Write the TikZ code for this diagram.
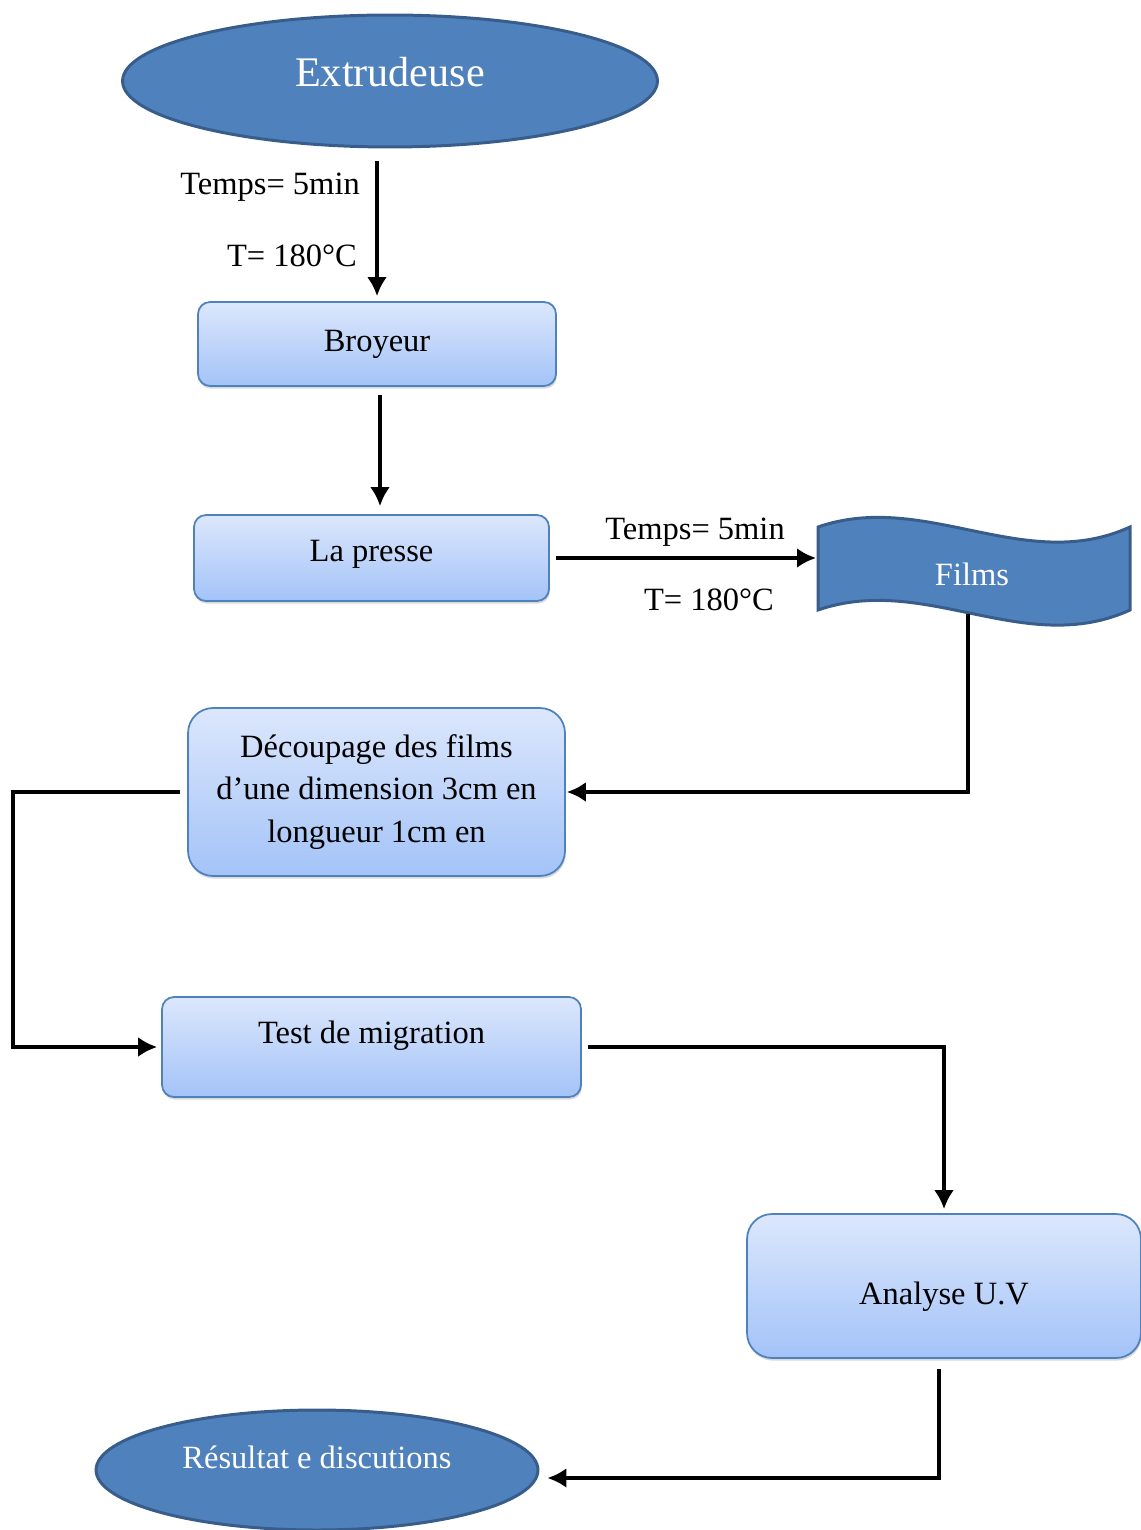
\documentclass[tikz,border=0pt]{standalone}
\usepackage{fontspec}
\setmainfont{Liberation Serif}
\usetikzlibrary{shapes.geometric,shadows,arrows.meta}
\definecolor{accent}{HTML}{4F81BD}
\definecolor{accentdark}{HTML}{385D8A}
\definecolor{boxtop}{HTML}{DCE7FC}
\definecolor{boxbottom}{HTML}{A3C3F8}

\begin{document}
\begin{tikzpicture}[x=0.02cm, y=-0.02cm,
		txt/.style={font=\fontsize{18.5}{24}\selectfont},
		etape/.style={txt, draw=accent, line width=1pt, rounded corners=0.24cm, top color=boxtop, bottom color=boxbottom, drop shadow={shadow xshift=0.5pt, shadow yshift=-1.5pt, opacity=0.3}, align=center},
		terminal/.style={ellipse, draw=accentdark, line width=1.7pt, fill=accent, text=white},
		fleche/.style={line width=2.3pt, -{Latex[length=0.38cm, width=0.4cm]}}]
			\useasboundingbox (0,0) rectangle (1141,1530);
			% shapes
			\node[terminal, minimum width=10.7cm, minimum height=2.64cm, font=\fontsize{24}{29}\selectfont, text height=0.6cm, text depth=0.36cm] (extr) at (390,81) {Extrudeuse};
			\node[etape, minimum width=7.16cm, minimum height=1.68cm] (broy) at (377,344) {Broyeur};
			\node[etape, minimum width=7.1cm, minimum height=1.72cm, text height=0.45cm, text depth=0.3cm] (presse) at (371.5,558) {La presse};
			\draw[accentdark, line width=1.7pt, fill=accent] (818,527) .. controls (925,490) and (1025,575) .. (1130,527) -- (1130,610) .. controls (1025,658) and (925,573) .. (818,610) -- cycle;
			\node[txt, text=white] (films) at (972,574) {Films};
			\coordinate (filmsgauche) at (816,560);
			\coordinate (filmsbas) at (968,614);
			\node[etape, minimum width=7.54cm, minimum height=3.36cm, rounded corners=0.5cm] (decoupe) at (376.5,792) {Découpage des films\\ d’une dimension 3cm en\\ longueur 1cm en};
			\node[etape, minimum width=8.38cm, minimum height=2cm, text height=0.45cm, text depth=0.6cm] (test) at (371.5,1047) {Test de migration};
			\node[etape, minimum width=7.88cm, minimum height=2.88cm, rounded corners=0.5cm, text height=0.85cm, text depth=0.12cm] (analyse) at (944,1286) {Analyse U.V};
			\node[terminal, txt, minimum width=8.84cm, minimum height=2.4cm, text height=0.45cm, text depth=0.52cm] (result) at (317,1470) {Résultat e discutions};
			% labels
			\node[txt, anchor=east] (temps1) at (366,187) {Temps= 5min};
			\node[txt, anchor=east] (temp1) at (363,256) {T= 180°C};
			\node[txt] (temps2) at (695,532) {Temps= 5min};
			\node[txt] (temp2) at (709,600) {T= 180°C};
			% connectors
			\draw[fleche, shorten <=0.26cm, shorten >=0.1cm] (broy.north |- extr.south) -- (broy.north);
			\draw[fleche, shorten <=0.16cm, shorten >=0.16cm] ([xshift=0.06cm]broy.south) -- ([xshift=0.06cm]broy.south |- presse.north);
			\draw[fleche] (presse.east -| 556,0) -- (presse.east -| filmsgauche);
			\draw[fleche, shorten >=0.02cm] (filmsbas) |- (decoupe.east);
			\draw[fleche, shorten <=0.14cm, shorten >=0.08cm] (decoupe.west) -- ++(-174,0) |- (test.west);
			\draw[fleche, shorten <=0.12cm, shorten >=0.08cm] (test.east) -| (analyse.north);
			\draw[fleche, shorten <=0.2cm, shorten >=0.16cm] ([xshift=-0.1cm]analyse.south) |- ([yshift=-0.16cm]result.east);
		\end{tikzpicture}
\end{document}
